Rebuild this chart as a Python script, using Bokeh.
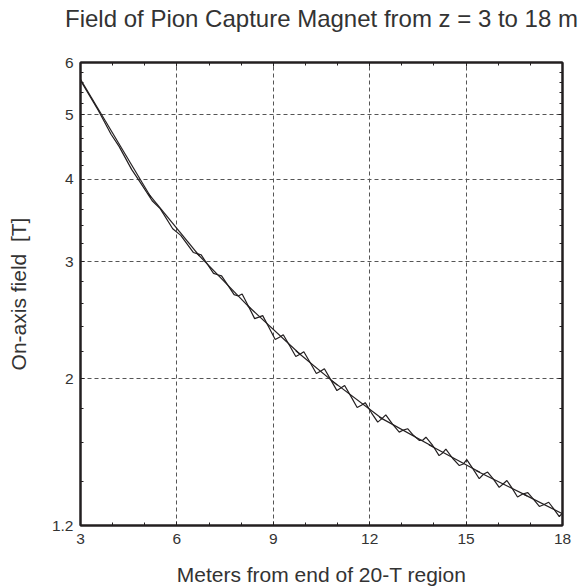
from bokeh.plotting import figure
from bokeh.models import (FixedTicker, LinearAxis, LogAxis, NumeralTickFormatter,
                          ColumnDataSource, Range1d)
from bokeh.embed import file_html
from bokeh.resources import INLINE

# ---- data ----
title_text = "Field of Pion Capture Magnet from z = 3 to 18 m"
x_label = "Meters from end of 20-T region"
y_label = "On-axis field\u00a0\u00a0[T]"

x_major = [3, 6, 9, 12, 15, 18]
x_minor = [4, 5, 7, 8, 10, 11, 13, 14, 16, 17]
y_major = [1.2, 2, 3, 4, 5, 6]
y_minor = [1.4, 1.6, 1.8, 2.2, 2.4, 2.6, 2.8, 3.2, 3.4, 3.6, 3.8,
           4.2, 4.4, 4.6, 4.8, 5.2, 5.4, 5.6, 5.8]

# measured (wiggly) field
wiggle_z = [3.0, 3.56, 3.95, 4.20, 4.59, 4.84, 5.23, 5.48, 5.87, 6.12, 6.51,
            6.63, 6.75, 6.95, 7.14, 7.27, 7.39, 7.59, 7.78, 7.91, 8.03, 8.23,
            8.42, 8.55, 8.67, 8.87, 9.06, 9.19, 9.31, 9.51, 9.70, 9.83, 9.95,
            10.15, 10.34, 10.47, 10.59, 10.79, 10.98, 11.10, 11.22, 11.42, 11.61,
            11.74, 11.86, 12.06, 12.25, 12.38, 12.50, 12.71, 12.92, 13.05, 13.18,
            13.36, 13.54, 13.65, 13.75, 13.96, 14.16, 14.27, 14.37, 14.58, 14.79,
            14.91, 15.02, 15.22, 15.41, 15.54, 15.67, 15.85, 16.03, 16.15, 16.27,
            16.44, 16.60, 16.76, 16.92, 17.10, 17.28, 17.43, 17.57, 17.74, 17.90,
            18.0]
wiggle_b = [5.64, 5.075, 4.676, 4.483, 4.138, 3.97, 3.71, 3.61, 3.366, 3.29, 3.10,
            3.088, 3.076, 2.976, 2.883, 2.869, 2.858, 2.765, 2.678, 2.665, 2.683, 2.569,
            2.463, 2.476, 2.489, 2.387, 2.291, 2.309, 2.329, 2.242, 2.159, 2.176, 2.195,
            2.113, 2.035, 2.051, 2.069, 1.991, 1.918, 1.935, 1.952, 1.878, 1.809,
            1.823, 1.839, 1.774, 1.719, 1.740, 1.763, 1.707, 1.660, 1.672, 1.680,
            1.642, 1.613, 1.614, 1.631, 1.585, 1.530, 1.544, 1.565, 1.516, 1.478,
            1.486, 1.509, 1.460, 1.412, 1.434, 1.445, 1.410, 1.370, 1.386, 1.403,
            1.364, 1.325, 1.339, 1.345, 1.314, 1.282, 1.291, 1.301, 1.269, 1.238,
            1.253]

# fitted smooth pieces (start z, end z, start B, end B)
fit_z0 = [3.0, 5.1, 6.6, 8.2, 9.7, 10.8, 12.3, 13.84, 15.3, 16.8]
fit_z1 = [5.2, 6.7, 8.3, 9.85, 11.0, 12.4, 14.0, 15.43, 16.9, 18.0]
fit_b0 = [5.66, 3.81, 3.099, 2.578, 2.2025, 1.989, 1.749, 1.589, 1.453, 1.337]
fit_b1 = [3.75, 3.063, 2.548, 2.172, 1.953, 1.738, 1.575, 1.444, 1.330, 1.25]

# ---- styling ----
INK = "#231f20"
TXT = "#333333"
FONT = "Liberation Sans"

p = figure(width=579, height=588, y_axis_type="log",
           x_range=Range1d(3, 18), y_range=Range1d(1.2, 6),
           output_backend="svg", toolbar_location=None,
           min_border_left=80, min_border_right=17,
           min_border_top=62, min_border_bottom=62)
p.background_fill_color = "white"
p.border_fill_color = "white"
p.outline_line_color = INK
p.outline_line_width = 2
p.title = None

def style_axis(ax, show_labels):
    ax.axis_line_color = INK
    ax.axis_line_width = 2
    ax.major_tick_in = 4
    ax.major_tick_out = 0
    ax.minor_tick_in = 3
    ax.minor_tick_out = 0
    ax.major_tick_line_color = INK
    ax.minor_tick_line_color = INK
    ax.major_tick_line_width = 1
    ax.minor_tick_line_width = 1
    ax.major_label_text_font = FONT
    ax.major_label_text_color = TXT
    if show_labels:
        ax.major_label_text_font_size = "15.5px"
    else:
        ax.major_label_text_font_size = "0px"
        ax.major_label_text_alpha = 0
        ax.major_label_standoff = 0
        ax.axis_label_standoff = 0

def style_label(ax, text, size, standoff):
    ax.axis_label = text
    ax.axis_label_text_font = FONT
    ax.axis_label_text_font_size = size
    ax.axis_label_text_font_style = "normal"
    ax.axis_label_text_color = TXT
    ax.axis_label_standoff = standoff

xa = p.xaxis[0]
xa.ticker = FixedTicker(ticks=x_major, minor_ticks=x_minor)
style_axis(xa, True)
xa.major_label_standoff = 8
style_label(xa, x_label, "21px", 16)

ya = p.yaxis[0]
ya.ticker = FixedTicker(ticks=y_major, minor_ticks=y_minor)
ya.formatter = NumeralTickFormatter(format="0.[0]")
style_axis(ya, True)
ya.major_label_standoff = 7
style_label(ya, y_label, "21px", 19)

# top axis carries the chart title as its label
top = LinearAxis(ticker=FixedTicker(ticks=x_major, minor_ticks=x_minor))
style_axis(top, False)
style_label(top, title_text, "24px", 31)
p.add_layout(top, "above")

right = LogAxis(ticker=FixedTicker(ticks=y_major, minor_ticks=y_minor))
style_axis(right, False)
p.add_layout(right, "right")

p.xgrid.ticker = FixedTicker(ticks=x_major[1:-1])
p.ygrid.ticker = FixedTicker(ticks=y_major[1:-1])
for g in (p.xgrid[0], p.ygrid[0]):
    g.grid_line_color = "#555555"
    g.grid_line_width = 1
    g.grid_line_dash = "4 3"

src = ColumnDataSource(dict(z=wiggle_z, b=wiggle_b))
p.line("z", "b", source=src, line_color=INK, line_width=1.2)

fsrc = ColumnDataSource(dict(z0=fit_z0, z1=fit_z1, b0=fit_b0, b1=fit_b1))
p.segment(x0="z0", y0="b0", x1="z1", y1="b1", source=fsrc,
          line_color=INK, line_width=1.2)

open("out.html", "w").write(file_html(p, INLINE))
